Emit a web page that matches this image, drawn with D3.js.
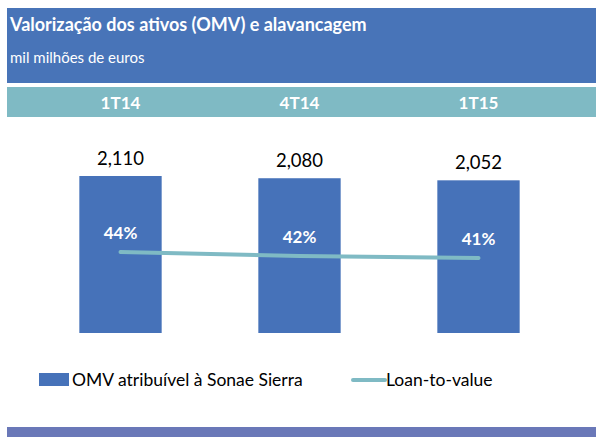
<!DOCTYPE html>
<html>
<head>
<meta charset="utf-8">
<script src="https://cdn.jsdelivr.net/npm/d3@7"></script>
<style>
  body { margin: 0; background: #fff; }
  svg text { font-family: Lato, "Open Sans", sans-serif; }
</style>
</head>
<body>
<script>
(function(){
    var categories = ["1T14", "4T14", "1T15"];
    var omv = [2110, 2080, 2052];
    var ltv = [44, 42, 41];
    var omvLabels = ["2,110", "2,080", "2,052"];
    var ltvLabels = ["44%", "42%", "41%"];

    var width = 596, height = 437;
    var plotBottom = 333;

    var svg = d3.select("body").append("svg")
        .attr("width", width)
        .attr("height", height);

    // header
    svg.append("rect")
        .attr("x", 7).attr("y", 8)
        .attr("width", width - 7).attr("height", 75)
        .style("fill", "#4874b8");
    svg.append("text")
        .attr("x", 10).attr("y", 31)
        .style("font-size", "18px").style("font-weight", "bold")
        .style("fill", "#fff")
        .text("Valorização dos ativos (OMV) e alavancagem");
    svg.append("text")
        .attr("x", 10).attr("y", 63)
        .style("font-size", "15px")
        .style("fill", "#fff")
        .text("mil milhões de euros");

    svg.append("rect")
        .attr("x", 7).attr("y", 87)
        .attr("width", width - 7).attr("height", 30)
        .style("fill", "#7fbac4");

    var x = d3.scaleBand()
        .domain(categories)
        .range([31, 568])
        .paddingInner(0.54)
        .paddingOuter(0.27);

    var y = d3.scaleLinear()
        .domain([0, 2110])
        .range([plotBottom, 176]);

    var y2 = d3.scaleLinear()
        .domain([0, 100])
        .range([340, 140]);

    svg.selectAll(".cat")
        .data(categories)
      .enter().append("text")
        .attr("class", "cat")
        .attr("x", function(d) { return x(d) + x.bandwidth() / 2; })
        .attr("y", 109)
        .style("text-anchor", "middle")
        .style("font-size", "17px").style("font-weight", "bold")
        .style("fill", "#fff")
        .text(function(d) { return d; });

    svg.selectAll(".bar")
        .data(omv)
      .enter().append("rect")
        .attr("class", "bar")
        .attr("x", function(d, i) { return x(categories[i]); })
        .attr("width", x.bandwidth())
        .attr("y", function(d) { return y(d); })
        .attr("height", function(d) { return y(0) - y(d); })
        .style("fill", "#4672b9");

    svg.selectAll(".val")
        .data(omv)
      .enter().append("text")
        .attr("class", "val")
        .attr("x", function(d, i) { return x(categories[i]) + x.bandwidth() / 2; })
        .attr("y", function(d) { return y(d) - 11; })
        .style("text-anchor", "middle")
        .style("font-size", "18.5px")
        .style("fill", "#000")
        .text(function(d, i) { return omvLabels[i]; });

    var line = d3.line()
        .x(function(d, i) { return x(categories[i]) + x.bandwidth() / 2; })
        .y(function(d) { return y2(d); });

    svg.append("path")
        .datum(ltv)
        .attr("d", line)
        .style("fill", "none")
        .style("stroke", "#7fbac4")
        .style("stroke-width", 4)
        .style("stroke-linecap", "round");

    svg.selectAll(".pct")
        .data(ltv)
      .enter().append("text")
        .attr("class", "pct")
        .attr("x", function(d, i) { return x(categories[i]) + x.bandwidth() / 2; })
        .attr("y", function(d) { return y2(d) - 13; })
        .style("text-anchor", "middle")
        .style("font-size", "17px").style("font-weight", "bold")
        .style("fill", "#fff")
        .text(function(d, i) { return ltvLabels[i]; });

    // legend
    svg.append("rect")
        .attr("x", 39).attr("y", 373)
        .attr("width", 30).attr("height", 13)
        .style("fill", "#4672b9");
    svg.append("text")
        .attr("x", 72).attr("y", 386)
        .style("font-size", "17.5px")
        .style("fill", "#000")
        .text("OMV atribuível à Sonae Sierra");
    svg.append("line")
        .attr("x1", 353).attr("x2", 385)
        .attr("y1", 380).attr("y2", 380)
        .style("stroke", "#7fbac4")
        .style("stroke-width", 4)
        .style("stroke-linecap", "round");
    svg.append("text")
        .attr("x", 386).attr("y", 386)
        .style("font-size", "17.5px")
        .style("fill", "#000")
        .text("Loan-to-value");

    svg.append("rect")
        .attr("x", 7).attr("y", 427)
        .attr("width", width - 7).attr("height", 10)
        .style("fill", "#6a78b8");
})();
</script>
</body>
</html>
